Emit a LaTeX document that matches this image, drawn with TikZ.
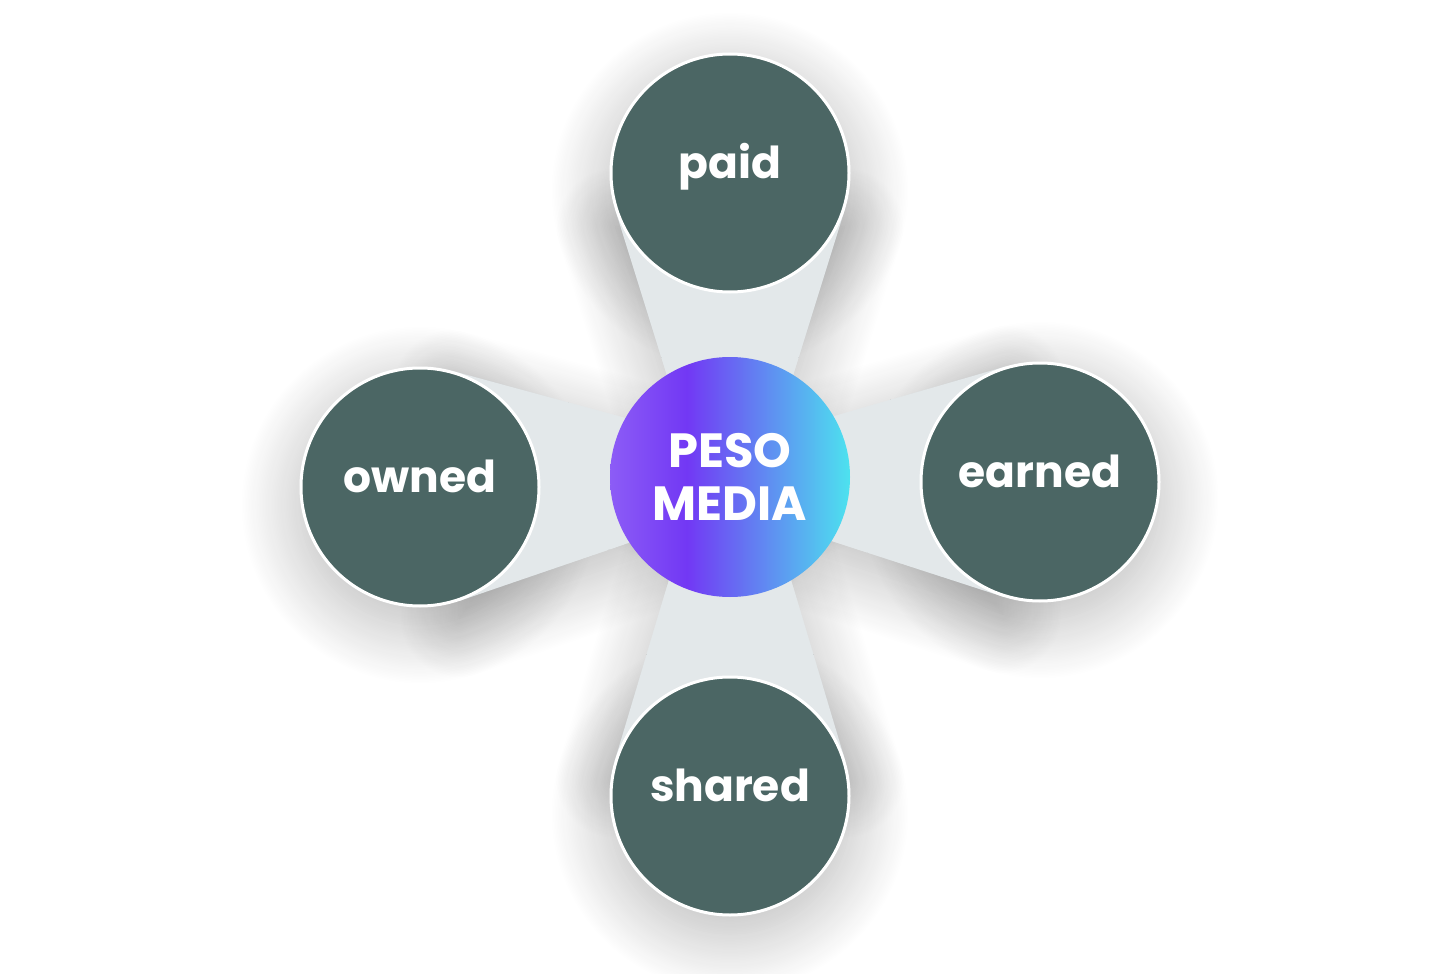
\documentclass[tikz,border=0pt]{standalone}
\usepackage{fontspec}
\setmainfont{Poppins}
\usetikzlibrary{calc, backgrounds, shadows.blur}
\definecolor{verde}{HTML}{4B6664}
\definecolor{gris}{HTML}{E3E8EA}
\definecolor{violetaA}{HTML}{8C5CF6}
\definecolor{violetaB}{HTML}{7238F4}
\definecolor{cian}{HTML}{4DE2EF}
\pgfdeclarehorizontalshading{degradado}{100bp}{color(0bp)=(violetaA); color(25bp)=(violetaA); color(41bp)=(violetaB); color(75bp)=(cian); color(100bp)=(cian)}
\tikzstyle{medio} = [circle,
                     draw=white,
                     line width=1.5pt,
                     fill=verde,
                     minimum size=119pt,
                     inner sep=0pt,
                     text=white,
                     text height=1ex,
                     text depth=0pt,
                     font=\fontsize{22}{22}\selectfont\bfseries]
\tikzstyle{centro} = [circle,
                      shading=degradado,
                      minimum size=120pt,
                      inner sep=0pt,
                      text=white,
                      align=center,
                      font=\fontsize{24}{27.5}\selectfont\bfseries]
\tikzstyle{sombra} = [blur shadow={shadow xshift=0pt,
                                   shadow yshift=-9pt,
                                   shadow blur radius=30pt,
                                   shadow blur steps=40,
                                   shadow opacity=28}]

\begin{document}
\begin{tikzpicture}[x=0.5pt, y=-0.5pt, node distance=155pt]
        \useasboundingbox (0,0) rectangle (1437,974);
        \node (Peso) [centro] at (730,477) {PESO\\[-1pt]MEDIA};
        \node (Paid) [medio, above of=Peso, yshift=-3pt] {paid};
        \node (Owned) [medio, left of=Peso, yshift=-5pt] {owned};
        \node (Earned) [medio, right of=Peso, yshift=-2.5pt] {earned};
        \node (Shared) [medio, below of=Peso, yshift=-4.5pt] {shared};

        \begin{scope}[on background layer]
            \foreach \m in {Paid, Owned, Earned, Shared} {
                \coordinate (apex\m) at ($(Peso)!-50pt!(\m)$);
                \fill [gris, sombra] (apex\m) -- (tangent cs:node=\m, point={(apex\m)}, solution=1)
                    -- (tangent cs:node=\m, point={(apex\m)}, solution=2) -- cycle;
                \fill [gris, sombra] (\m.center) circle (60pt);
            }
            \foreach \m in {Paid, Owned, Earned, Shared} {
                \fill [gris] (apex\m) -- (tangent cs:node=\m, point={(apex\m)}, solution=1)
                    -- (tangent cs:node=\m, point={(apex\m)}, solution=2) -- cycle;
            }
        \end{scope}
    \end{tikzpicture}
\end{document}
